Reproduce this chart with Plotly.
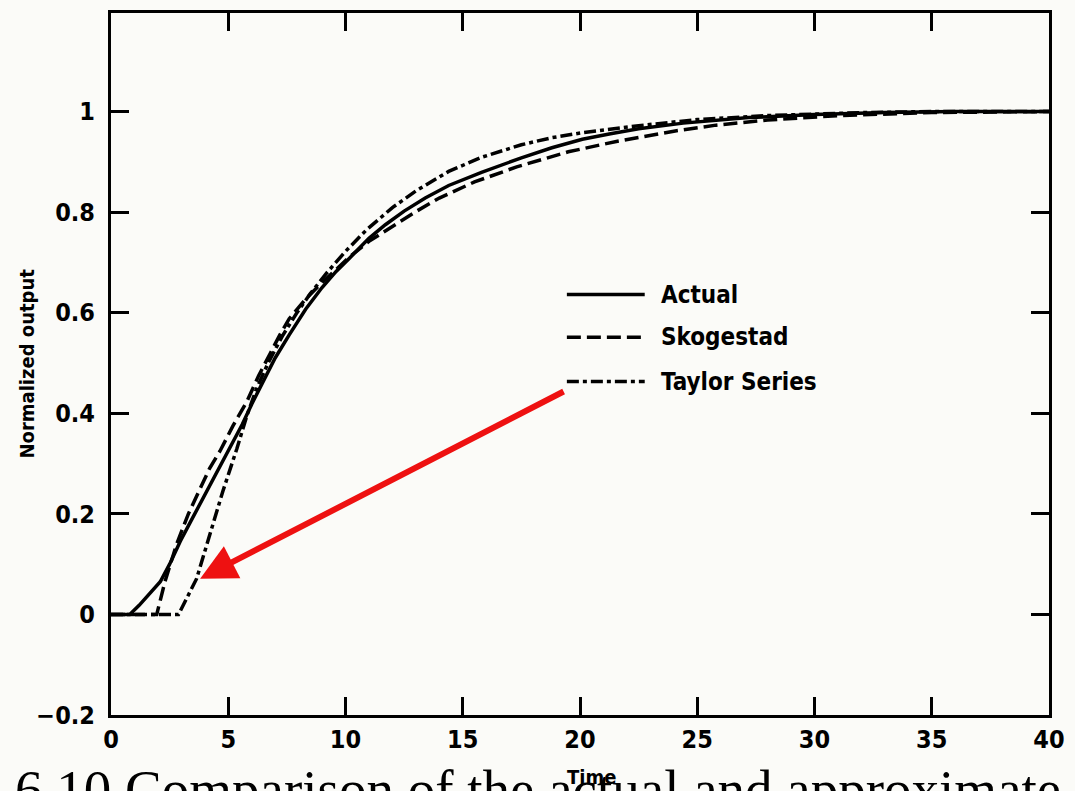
import plotly.graph_objects as go

# ---- data ----
t_actual = [0, 0.8, 1.2, 1.6, 2.1, 2.5, 2.95, 3.4, 3.8, 4.3, 4.8, 5.2, 5.6, 6.0, 6.5, 7.0, 7.6, 8.3, 9.0, 9.6, 10.2, 11.0, 11.7, 12.5, 13.4, 14.4, 15.8, 17.5, 18.8, 20.1, 21.3, 22.5, 24.4, 26.0, 27.2, 30, 33, 36, 40]
y_actual = [0, 0, 0.018, 0.038, 0.065, 0.1, 0.145, 0.185, 0.22, 0.263, 0.305, 0.342, 0.378, 0.418, 0.463, 0.51, 0.556, 0.607, 0.65, 0.682, 0.71, 0.748, 0.775, 0.802, 0.828, 0.853, 0.879, 0.908, 0.928, 0.945, 0.956, 0.966, 0.977, 0.984, 0.988, 0.994, 0.998, 1.0, 1.0]

t_skog = [0, 1.95, 2.3, 2.8, 3.3, 3.8, 4.2, 4.65, 5.2, 5.8, 6.3, 6.8, 7.2, 7.6, 8.3, 9.0, 9.6, 10.2, 11.0, 12.0, 13.0, 14.0, 15.5, 17.3, 19.5, 21.6, 24.0, 25.8, 28.0, 31.0, 35.0, 40]
y_skog = [0, 0, 0.065, 0.14, 0.2, 0.252, 0.29, 0.325, 0.375, 0.424, 0.475, 0.52, 0.556, 0.588, 0.627, 0.66, 0.687, 0.712, 0.742, 0.772, 0.801, 0.828, 0.86, 0.89, 0.92, 0.941, 0.961, 0.973, 0.983, 0.992, 0.998, 1.0]

t_taylor = [0, 2.88, 3.65, 4.2, 4.77, 5.37, 5.8, 6.2, 6.7, 7.3, 7.9, 8.5, 9.2, 10.0, 10.9, 12.0, 13.0, 14.4, 15.8, 17.5, 18.8, 20.1, 22.5, 25.0, 28.0, 32.0, 35.0, 40]
y_taylor = [0, 0, 0.071, 0.158, 0.245, 0.33, 0.396, 0.448, 0.5, 0.553, 0.598, 0.638, 0.679, 0.722, 0.765, 0.809, 0.842, 0.881, 0.909, 0.934, 0.948, 0.958, 0.972, 0.984, 0.992, 0.998, 1.0, 1.0]

series_names = ["Actual", "Skogestad", "Taylor Series"]
x_ticks = [0, 5, 10, 15, 20, 25, 30, 35, 40]
y_ticks = [-0.2, 0, 0.2, 0.4, 0.6, 0.8, 1.0]
y_tick_text = ["\u22120.2", "0", "0.2", "0.4", "0.6", "0.8", "1"]

caption = "6.10 Comparison of the actual and approximate"

dashes = ["solid", "14px,6px", "12px,4px,4px,4px"]
lw = 3.5
FONT = "DejaVu Sans Condensed, Roboto, Liberation Sans, sans-serif"

fig = go.Figure()
for name, xs, ys, d in zip(series_names, [t_actual, t_skog, t_taylor], [y_actual, y_skog, y_taylor], dashes):
    fig.add_trace(go.Scatter(x=xs, y=ys, mode="lines", name=name, showlegend=False,
                             line=dict(color="black", width=lw, dash=d, shape="linear")))

axis_common = dict(showline=True, linecolor="black", linewidth=3, mirror="allticks",
                   ticks="inside", ticklen=18, tickwidth=2.5, tickcolor="black",
                   showgrid=False, zeroline=False,
                   tickfont=dict(family=FONT, size=25, color="black"))

fig.update_layout(
    width=1075, height=791,
    margin=dict(l=111, r=25, t=10, b=76),
    paper_bgcolor="#fbfbf8", plot_bgcolor="#fbfbf8",
    xaxis=dict(range=[0, 40], tickvals=x_ticks, ticktext=["<b>%d</b>" % v for v in x_ticks], **axis_common),
    yaxis=dict(range=[-0.2, 1.196], tickvals=y_ticks, ticktext=["<b>%s</b>" % s for s in y_tick_text],
               ticklabelstandoff=8, **axis_common),
)

# legend (manual, to match long line samples)
leg_y = [0.599, 0.538, 0.475]
for name, d, yy in zip(series_names, dashes, leg_y):
    fig.add_shape(type="line", xref="paper", yref="paper", x0=0.486, x1=0.569, y0=yy, y1=yy,
                  line=dict(color="black", width=lw, dash=d))
    fig.add_annotation(xref="paper", yref="paper", x=0.584, y=yy, text="<b>" + name + "</b>", showarrow=False,
                       xanchor="left", yanchor="middle",
                       font=dict(family=FONT, size=24, color="black"))

# red arrow
fig.add_annotation(x=3.8, y=0.071, xref="x", yref="y", ax=365, ay=-188, axref="pixel", ayref="pixel",
                   showarrow=True, arrowhead=2, arrowsize=1.2, arrowwidth=6, arrowcolor="#ee1111", text="")

# caption (cut off by the bottom edge, as in the reference)
fig.add_annotation(xref="paper", yref="paper", x=-0.104, y=-0.06, text=caption, showarrow=False,
                   xanchor="left", yanchor="top",
                   font=dict(family="Liberation Serif, Times New Roman, serif", size=55, color="black"))

# axis titles
fig.add_annotation(xref="paper", yref="paper", x=-0.105, y=0.5, text="<b>Normalized output</b>", textangle=-90,
                   showarrow=False, font=dict(family=FONT, size=20, color="black"))
fig.add_annotation(xref="paper", yref="paper", x=0.512, y=-0.088, text="<b>Time</b>", showarrow=False,
                   yanchor="middle", font=dict(family=FONT, size=20, color="black"))

fig.write_html("out.html")
